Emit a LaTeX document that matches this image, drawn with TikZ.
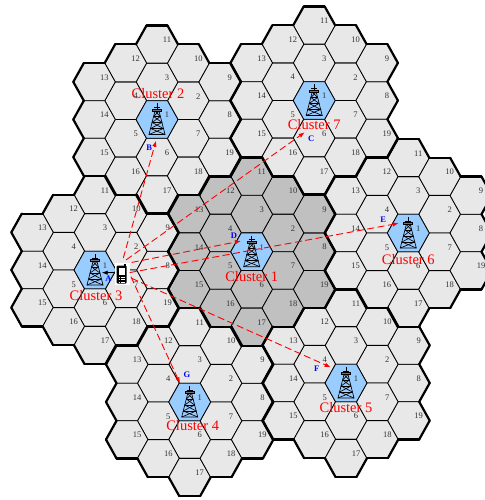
\documentclass[tikz,border=0pt]{standalone}
\usepackage{fontspec}
\setmainfont{Liberation Serif}
\usetikzlibrary{arrows.meta}
\definecolor{cellgray}{HTML}{E8E8E8}
\definecolor{cellshade}{HTML}{C0C0C0}
\definecolor{hub}{HTML}{99CCFF}
\definecolor{numink}{HTML}{333333}
\newcommand{\hexpath}{(21,0) -- (10.5,-18.8) -- (-10.5,-18.8) -- (-21,0) -- (-10.5,18.8) -- (10.5,18.8) -- cycle}

\begin{document}
\begin{tikzpicture}[
  x=1pt, y=-1pt,
  cell/.style={draw=black, line width=0.85pt, line join=round},
  rim/.style={draw=black, line width=2.2pt, line cap=round},
  num/.style={font=\fontsize{8.5}{9}\selectfont, text=numink, inner sep=0pt},
  clabel/.style={font=\fontsize{14.5}{15}\selectfont, text=red, inner sep=0pt},
  letter/.style={font=\fontsize{8.5}{9}\selectfont\bfseries, text=blue, inner sep=0pt},
  link/.style={-{Latex[length=6pt,width=4.5pt]}, red, line width=0.9pt, dash pattern=on 7pt off 3.5pt},
  uplink/.style={-{Latex[length=6pt,width=4.5pt]}, black, line width=0.9pt},
  towerline/.style={black, line width=0.65pt},
  tower/.pic={
    \draw[towerline] (0,-16) -- (0,-10);
    \draw[towerline, fill=black!55] (-4.5,-10.5) rectangle (4.5,-8.5);
    \draw[towerline] (-3,-12) -- (3,-12);
    \draw[towerline] (-2,-8.5) -- (-8,15) -- (8,15) -- (2,-8.5);
    \draw[towerline] (-2,-8.5) -- (3.3,-3) -- (-4.9,3) -- (6.4,9) -- (-8,15);
    \draw[towerline] (2,-8.5) -- (-3.3,-3) -- (4.9,3) -- (-6.4,9) -- (8,15);
    \draw[towerline] (-3.3,-3) -- (3.3,-3) (-4.9,3) -- (4.9,3) (-6.4,9) -- (6.4,9);
  }
]
  \useasboundingbox (0,0) rectangle (484,500);
  \def\clusters{1/251.7/251.7/0/25/cellshade, 2/157/119.5/1/-26/cellgray, 3/95/270/1/26/cellgray,
    4/189.7/402/3/24/cellgray, 5/346/383/0/25/cellgray, 6/408.3/233/0/27/cellgray, 7/314.2/100.5/0/24/cellgray}
  \def\cells{1/0/0, 2/1/-.5, 3/0/-1, 4/-1/-.5, 5/-1/.5, 6/0/1, 7/1/.5, 8/2/0, 9/2/-1, 10/1/-1.5,
    11/0/-2, 12/-1/-1.5, 13/-2/-1, 14/-2/0, 15/-2/1, 16/-1/1.5, 17/0/2, 18/1/1.5, 19/2/1}

  % cells of every cluster
  \foreach \cid/\cx/\cy/\lx/\ly/\tint in \clusters {
    \foreach \k/\col/\row in \cells {
      \pgfmathsetmacro{\hx}{\cx+\col*31.35}
      \pgfmathsetmacro{\hy}{\cy+\row*37.6}
      \draw[cell, fill=\tint, shift={(\hx,\hy)}] \hexpath;
    }
    \draw[cell, fill=hub, shift={(\cx,\cy)}] \hexpath;
  }

  % thick rim round every cluster
  \foreach \cid/\cx/\cy/\lx/\ly/\tint in \clusters {
    \foreach \col/\row/\from/\to in {2/0/5/6, 2/-1/5/7, 1/-1.5/6/7, 0/-2/6/8, -1/-1.5/7/8, -2/-1/7/9,
      -2/0/8/9, -2/1/8/10, -1/1.5/9/10, 0/2/9/11, 1/1.5/10/11, 2/1/10/12} {
      \pgfmathsetmacro{\hx}{\cx+\col*31.35}
      \pgfmathsetmacro{\hy}{\cy+\row*37.6}
      \foreach \e in {\from,...,\to} {
        \pgfmathsetmacro{\ax}{21*cos(\e*60)}
        \pgfmathsetmacro{\ay}{-21.71*sin(\e*60)}
        \pgfmathsetmacro{\bx}{21*cos((\e+1)*60)}
        \pgfmathsetmacro{\by}{-21.71*sin((\e+1)*60)}
        \draw[rim, shift={(\hx,\hy)}] (\ax,\ay) -- (\bx,\by);
      }
    }
  }

  % towers, cell numbers and cluster names
  \foreach \cid/\cx/\cy/\lx/\ly/\tint in \clusters {
    \foreach \k/\col/\row in \cells {
      \pgfmathsetmacro{\hx}{\cx+\col*31.35+10}
      \pgfmathsetmacro{\hy}{\cy+\row*37.6-4.5}
      \node[num] (n\cid-\k) at (\hx,\hy) {\k};
    }
    \pic (tower\cid) at (\cx,\cy) {tower};
    \node[clabel] (name\cid) at (\cx+\lx,\cy+\ly) {Cluster \cid};
  }

  % phone
  \node[fill=white, minimum width=15pt, minimum height=22pt, inner sep=0pt] (phone) at (122,274) {};
  \fill[black, rounded corners=1pt] (116.7,265.5) rectangle (126.7,283.5);
  \fill[black] (124,263.5) rectangle (125.5,266);
  \fill[white] (118.8,267.5) rectangle (124.6,274.5);
  \foreach \yy in {277,279.5,282} {
    \draw[white, line width=0.4pt, dash pattern=on 1.6pt off 0.8pt] (118.5,\yy) -- (125,\yy);
  }

  % ends of the links
  \coordinate (tipA) at (101.7,272.7);
  \coordinate (tipB) at (156,140.7);
  \coordinate (tipC) at (304.7,132.3);
  \coordinate (tipD) at (241,241);
  \coordinate (tipE) at (398.7,223.3);
  \coordinate (tipF) at (330.7,367.3);
  \coordinate (tipG) at (180,383.3);

  \draw[uplink] (phone.west |- tipA) -- (tipA);
  \draw[link, shorten <=5pt] (phone.north) -- (tipB);
  \draw[link, shorten <=5pt] (phone.north) -- (tipC);
  \draw[link, shorten <=2pt] (phone.north east) -- (tipD);
  \draw[link] (phone) -- (tipE);
  \draw[link, shorten <=2pt] (phone) -- (tipF);
  \draw[link, shorten <=3pt] (phone.east) -- (tipG);

  % link letters
  \node[letter] (letA) at (108.5,278.3) {A};
  \node[letter] (letB) at (149.3,147.7) {B};
  \node[letter] (letC) at (311.3,139) {C};
  \node[letter] (letD) at (234,235.7) {D};
  \node[letter] (letE) at (383.3,219.3) {E};
  \node[letter] (letF) at (316.7,368.3) {F};
  \node[letter] (letG) at (187,375) {G};
\end{tikzpicture}
\end{document}
